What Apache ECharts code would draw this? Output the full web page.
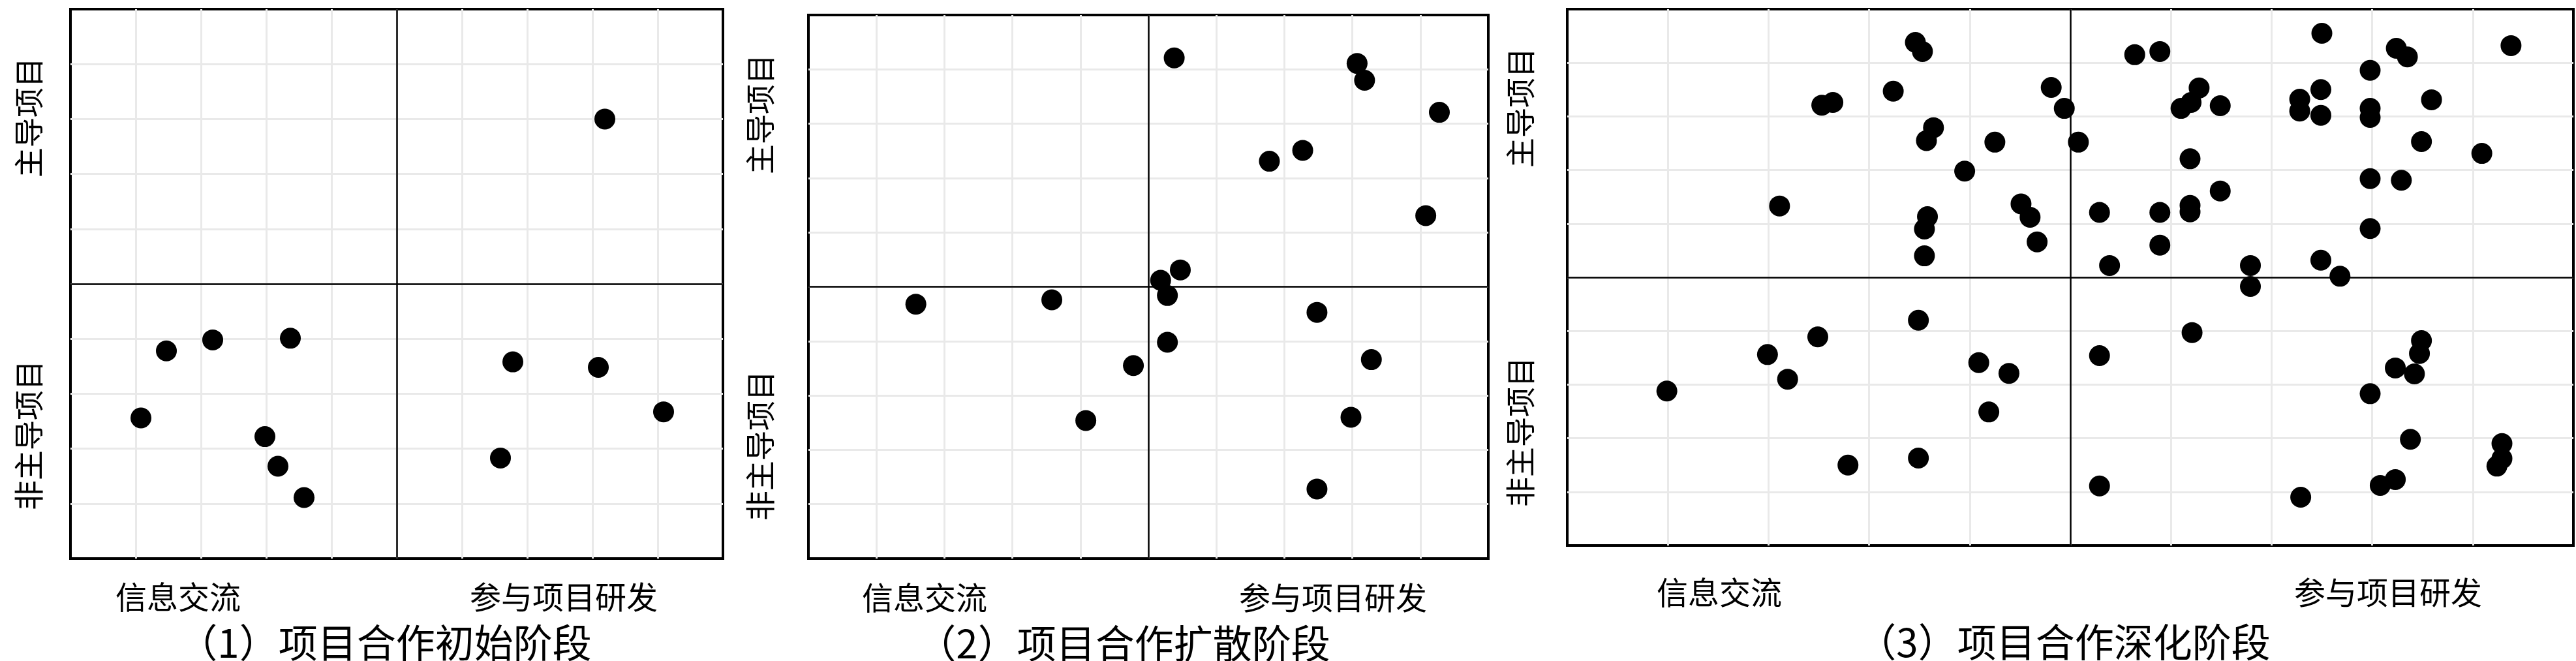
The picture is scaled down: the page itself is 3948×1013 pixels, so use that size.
<!DOCTYPE html>
<html><head><meta charset="utf-8">
<script src="https://cdn.jsdelivr.net/npm/echarts@6/dist/echarts.min.js"></script>
<style>html,body{margin:0;padding:0;background:#fff}#chart{width:3948px;height:1013px}</style>
</head><body><div id="chart"></div>
<script>
// ---- text ----
const stageTitles = ['（1）项目合作初始阶段', '（2）项目合作扩散阶段', '（3）项目合作深化阶段'];
const xLabels = ['信息交流', '参与项目研发'];
const yLabels = ['主导项目', '非主导项目'];

// ---- data: [x, y], origin at the centre cross ----
const stage1Points = [
  [3.19, 3.00], [-3.53, -1.22], [-2.82, -1.02], [-1.63, -0.99], [-3.92, -2.44],
  [-2.02, -2.78], [-1.82, -3.32], [-1.42, -3.89], [1.78, -1.42], [3.09, -1.52],
  [4.09, -2.33], [1.59, -3.17]
];
const stage2Points = [
  [0.38, 4.21], [3.07, 4.11], [3.18, 3.80], [4.28, 3.21], [2.27, 2.51],
  [1.78, 2.31], [4.08, 1.31], [0.47, 0.31], [0.18, 0.12], [0.28, -0.16],
  [-3.42, -0.32], [-1.42, -0.24], [2.48, -0.47], [0.28, -1.02], [-0.22, -1.45],
  [3.28, -1.34], [-0.92, -2.46], [2.98, -2.40], [2.48, -3.72]
];
const stage3Points = [
  // upper left
  [-1.54, 4.38], [-1.47, 4.21], [-1.76, 3.47], [-2.47, 3.21], [-2.36, 3.26],
  [-0.19, 3.54], [-0.06, 3.15], [-1.36, 2.79], [-1.43, 2.55], [-0.75, 2.52],
  [-1.05, 1.98], [-2.89, 1.33], [-1.42, 1.13], [-1.45, 0.90], [-0.49, 1.37],
  [-0.40, 1.12], [-0.33, 0.66], [-1.45, 0.40],
  // upper right
  [0.64, 4.15], [0.89, 4.21], [2.50, 4.55], [4.38, 4.32], [3.24, 4.27],
  [3.35, 4.11], [2.98, 3.86], [1.28, 3.53], [1.20, 3.26], [1.10, 3.15],
  [1.49, 3.20], [2.28, 3.32], [2.28, 3.10], [2.49, 3.50], [2.49, 3.02],
  [2.98, 3.15], [2.98, 2.98], [3.59, 3.31], [0.08, 2.52], [1.19, 2.21],
  [3.49, 2.53], [4.09, 2.31], [2.98, 1.84], [3.29, 1.81], [1.49, 1.61],
  [0.29, 1.21], [0.89, 1.21], [1.19, 1.34], [1.19, 1.22], [2.98, 0.91],
  [0.89, 0.60], [0.39, 0.22], [1.79, 0.22], [2.49, 0.32], [2.68, 0.02],
  // lower left
  [-4.01, -2.12], [-3.01, -1.44], [-2.81, -1.90], [-2.51, -1.11], [-1.51, -0.80],
  [-0.91, -1.59], [-0.61, -1.79], [-0.81, -2.51], [-2.21, -3.50], [-1.51, -3.37],
  // lower right
  [1.79, -0.17], [1.21, -1.03], [0.29, -1.46], [3.49, -1.18], [3.47, -1.42],
  [3.23, -1.69], [3.42, -1.80], [2.98, -2.17], [3.38, -3.02], [4.29, -3.10],
  [4.29, -3.38], [4.24, -3.52], [0.29, -3.89], [2.29, -4.10], [3.08, -3.88],
  [3.23, -3.77]
];
const stagePoints = [stage1Points, stage2Points, stage3Points];
const axisMin = -5, axisMax = 5, gridStep = 1;
const quadrantDivider = 0;

// ---- layout (pixels) ----
const layouts = [
  {left: 108, top: 14, width: 1000, height: 842, yLabelX: 44, yTopY: 180, yBottomY: 667,
   xLabelY: 915, xLeftX: 273, xRightX: 864, titleX: 590, titleY: 985},
  {left: 1239, top: 23, width: 1042, height: 833, yLabelX: 1165, yTopY: 175, yBottomY: 683,
   xLabelY: 916, xLeftX: 1417, xRightX: 2043, titleX: 1722, titleY: 986},
  {left: 2402, top: 14, width: 1542, height: 822, yLabelX: 2330, yTopY: 165, yBottomY: 662,
   xLabelY: 908, xLeftX: 2635, xRightX: 3660, titleX: 3163, titleY: 984}
];
const FONT = "'Noto Sans CJK SC', 'Noto Sans', sans-serif";

const grids = [], xAxes = [], yAxes = [], series = [], graphics = [];
function axisCommon() {
  return {
    type: 'value', min: axisMin, max: axisMax, interval: gridStep,
    axisLine: {show: false}, axisTick: {show: false}, axisLabel: {show: false},
    splitLine: {show: true, showMinLine: false, showMaxLine: false,
                lineStyle: {color: '#e9e9e9', width: 3}}
  };
}
function txt(x, y, text, size, rot) {
  return {type: 'text', x: x, y: y, rotation: rot || 0, z: 100,
    style: {text: text, font: size + 'px ' + FONT, fill: '#000',
            textAlign: 'center', textVerticalAlign: 'middle', align: 'center', verticalAlign: 'middle'}};
}
layouts.forEach((L, i) => {
  grids.push({left: L.left, top: L.top, width: L.width, height: L.height,
              show: true, borderColor: '#000', borderWidth: 4, backgroundColor: 'transparent'});
  xAxes.push(Object.assign(axisCommon(), {gridIndex: i}));
  yAxes.push(Object.assign(axisCommon(), {gridIndex: i}));
  series.push({type: 'scatter', xAxisIndex: i, yAxisIndex: i, data: stagePoints[i],
               symbol: 'circle', symbolSize: 32, itemStyle: {color: '#000', opacity: 1}, z: 10,
               markLine: {silent: true, symbol: 'none', animation: false, z: 5,
                          label: {show: false},
                          lineStyle: {color: '#000', width: 2.5, type: 'solid', opacity: 1},
                          emphasis: {disabled: true},
                          data: [{xAxis: quadrantDivider}, {yAxis: quadrantDivider}]}});
  graphics.push(txt(L.yLabelX, L.yTopY, yLabels[0], 46, Math.PI / 2));
  graphics.push(txt(L.yLabelX, L.yBottomY, yLabels[1], 46, Math.PI / 2));
  graphics.push(txt(L.xLeftX, L.xLabelY, xLabels[0], 48));
  graphics.push(txt(L.xRightX, L.xLabelY, xLabels[1], 48));
  graphics.push(txt(L.titleX, L.titleY, stageTitles[i], 60));
});

const chart = echarts.init(document.getElementById('chart'), null, {renderer: 'canvas'});
chart.setOption({
  animation: false, backgroundColor: '#fff',
  grid: grids, xAxis: xAxes, yAxis: yAxes, series: series, graphic: graphics
});
</script></body></html>
